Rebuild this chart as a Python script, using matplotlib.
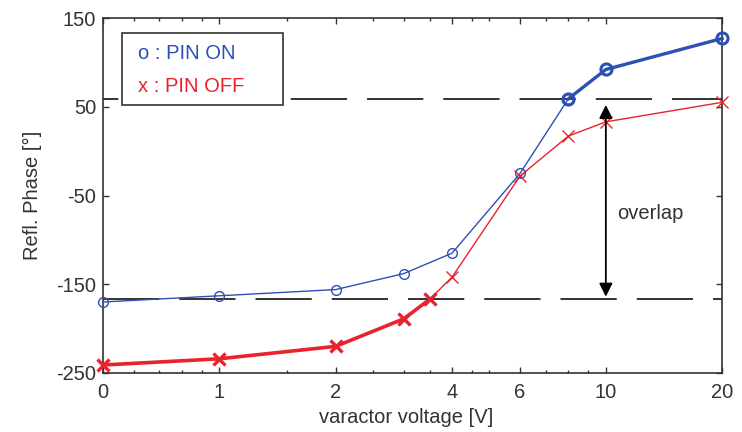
import numpy as np
import matplotlib
matplotlib.use("Agg")
import matplotlib.pyplot as plt
from matplotlib.patches import Rectangle
from matplotlib.ticker import NullFormatter

plt.rcParams['font.family'] = ['Liberation Sans', 'DejaVu Sans']
plt.rcParams['lines.scale_dashes'] = False
plt.rcParams['axes.unicode_minus'] = False

# data (0 V is drawn at 0.5 on the log axis)
on_volts = np.array([0, 1, 2, 3, 4, 6, 8, 10, 20])
on_phase = np.array([-170, -163, -156, -138, -115, -25, 59, 92, 127])
off_volts = np.array([0, 1, 2, 3, 3.5, 4, 6, 8, 10, 20])
off_phase = np.array([-241, -234, -220, -189, -167, -142, -28, 17, 33, 55])

upper_level = 59
lower_level = -167

xticks = [0.5, 1, 2, 4, 6, 10, 20]
xticklabels = ['0', '1', '2', '4', '6', '10', '20']
xminor = [0.6, 0.7, 0.8, 0.9, 1.5, 2.5, 3, 3.5, 4.5, 5, 7, 8, 9]
yticks = [-250, -150, -50, 50, 150]

blue = '#2d50b4'
red = '#e8232d'
dark = '#333333'
fs = 14.5


def xpos(v):
    return np.where(v == 0, 0.5, v)


fig = plt.figure(figsize=(7.42, 4.32), dpi=100)
ax = fig.add_axes([0.1388, 0.1366, 0.8345, 0.8217])
ax.set_xscale('log')

# overlap levels
ax.axhline(upper_level, color=dark, lw=1.4, linestyle=(29.5, (40.5, 14.4)),
           zorder=1)
ax.axhline(lower_level, color=dark, lw=1.4, linestyle=(0, (40.5, 14.4)),
           zorder=1)

xo = xpos(on_volts)
xf = xpos(off_volts)
# PIN ON: thin up to 8 V, thick above
ax.plot(xo[:7], on_phase[:7], '-o', color=blue, lw=1.0, ms=7, mfc='none',
        mew=1.0, zorder=3, clip_on=False)
ax.plot(xo[6:], on_phase[6:], '-o', color=blue, lw=2.4, ms=8, mfc='none',
        mew=2.2, zorder=4, clip_on=False)
# PIN OFF: thick up to 3.5 V, thin above
ax.plot(xf[4:], off_phase[4:], '-x', color=red, lw=1.0, ms=8, mew=1.0,
        zorder=3, clip_on=False)
ax.plot(xf[:5], off_phase[:5], '-x', color=red, lw=2.6, ms=9, mew=2.4,
        zorder=4, clip_on=False)

# overlap arrow
ax.annotate('', xy=(10, 52), xytext=(10, -164),
            arrowprops=dict(arrowstyle='<|-|>', color='black', lw=1.3,
                            mutation_scale=20, shrinkA=0, shrinkB=0),
            zorder=5)
ax.text(10.7, -70, 'overlap', fontsize=fs, color=dark, ha='left', va='center')

# legend box
ax.add_patch(Rectangle((0.031, 0.755), 0.26, 0.203, transform=ax.transAxes,
                       facecolor='white', edgecolor=dark, lw=1.2, zorder=6))
ax.text(0.057, 0.899, 'o : PIN ON', transform=ax.transAxes, color=blue,
        fontsize=fs, va='center', ha='left', zorder=7)
ax.text(0.057, 0.808, 'x : PIN OFF', transform=ax.transAxes, color=red,
        fontsize=fs, va='center', ha='left', zorder=7)

ax.set_xlim(0.5, 20)
ax.set_ylim(-250, 150)
ax.set_xticks(xticks)
ax.set_xticklabels(xticklabels)
ax.set_xticks(xminor, minor=True)
ax.xaxis.set_minor_formatter(NullFormatter())
ax.set_yticks(yticks)
ax.set_yticks([], minor=True)

ax.tick_params(which='both', direction='in', top=True, right=True,
               colors=dark, labelsize=fs, width=1.0)
ax.tick_params(which='major', length=4)
ax.tick_params(which='minor', length=2)
ax.tick_params(axis='x', pad=7)
ax.tick_params(axis='y', pad=5)
for s in ax.spines.values():
    s.set_color(dark)
    s.set_linewidth(1.2)

ax.set_xlabel('varactor voltage [V]', fontsize=fs, color=dark)
ax.set_ylabel('Refl. Phase [°]', fontsize=fs, color=dark)
ax.xaxis.set_label_coords(0.49, -0.1)
ax.yaxis.set_label_coords(-0.099, 0.5)

fig.savefig('out.png', dpi=100)
